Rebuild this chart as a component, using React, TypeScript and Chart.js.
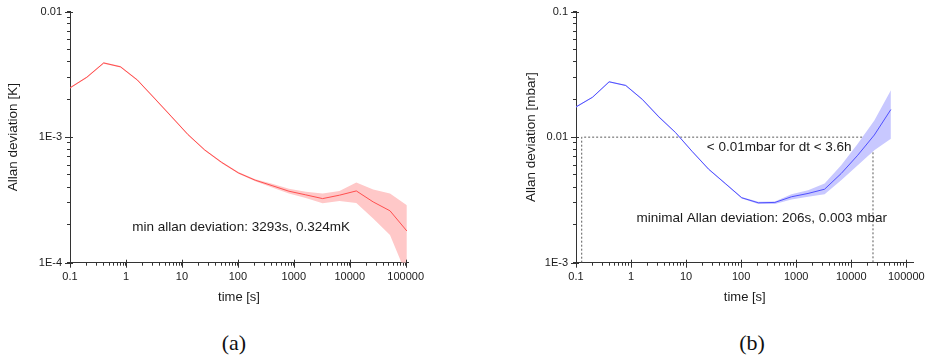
import React, { useEffect, useRef } from 'react';
import { Chart, registerables } from 'chart.js';

Chart.register(...registerables);

// ---------- data ----------
const TIMES_A = [0.1, 0.2, 0.4, 0.8, 1.6, 3.2, 6.4, 12.8, 25.6, 51.2, 102.4, 204.8, 409.6, 819.2, 1638.4, 3276.8, 6553.6, 13107.2, 26214.4, 52428.8, 104857.6];
const ALLAN_A = [2.47e-3, 3.0e-3, 3.9e-3, 3.63e-3, 2.85e-3, 2.05e-3, 1.47e-3, 1.05e-3, 7.9e-4, 6.3e-4, 5.19e-4, 4.54e-4, 4.11e-4, 3.71e-4, 3.47e-4, 3.24e-4, 3.45e-4, 3.73e-4, 3.05e-4, 2.59e-4, 1.79e-4];
const UPPER_A = [2.5e-3, 3.04e-3, 3.95e-3, 3.68e-3, 2.89e-3, 2.08e-3, 1.49e-3, 1.065e-3, 8.0e-4, 6.4e-4, 5.27e-4, 4.62e-4, 4.25e-4, 3.88e-4, 3.68e-4, 3.56e-4, 3.73e-4, 4.35e-4, 3.83e-4, 3.56e-4, 2.87e-4];
const LOWER_A = [2.44e-3, 2.96e-3, 3.85e-3, 3.58e-3, 2.81e-3, 2.02e-3, 1.45e-3, 1.035e-3, 7.8e-4, 6.2e-4, 5.11e-4, 4.46e-4, 3.98e-4, 3.56e-4, 3.28e-4, 2.97e-4, 3.1e-4, 2.99e-4, 2.25e-4, 1.66e-4, 7.9e-5];

const TIMES_B = [0.1, 0.2, 0.4, 0.8, 1.6, 3.2, 6.4, 12.8, 25.6, 51.2, 102.4, 204.8, 409.6, 819.2, 1638.4, 3276.8, 6553.6, 13107.2, 26214.4, 52428.8];
const ALLAN_B = [1.74e-2, 2.08e-2, 2.76e-2, 2.58e-2, 2.0e-2, 1.45e-2, 1.09e-2, 7.72e-3, 5.56e-3, 4.28e-3, 3.29e-3, 3.0e-3, 3.02e-3, 3.35e-3, 3.56e-3, 3.85e-3, 5.13e-3, 7.18e-3, 1.04e-2, 1.66e-2];
const UPPER_B = [1.76e-2, 2.1e-2, 2.79e-2, 2.61e-2, 2.02e-2, 1.47e-2, 1.1e-2, 7.8e-3, 5.62e-3, 4.33e-3, 3.33e-3, 3.06e-3, 3.07e-3, 3.51e-3, 3.78e-3, 4.27e-3, 5.97e-3, 8.88e-3, 1.36e-2, 2.36e-2];
const LOWER_B = [1.72e-2, 2.06e-2, 2.73e-2, 2.55e-2, 1.98e-2, 1.43e-2, 1.08e-2, 7.64e-3, 5.5e-3, 4.23e-3, 3.25e-3, 2.94e-3, 2.93e-3, 3.19e-3, 3.35e-3, 3.51e-3, 4.54e-3, 5.97e-3, 7.86e-3, 9.73e-3];

const GUIDE_T = [0.127, 0.127, 24800, 24800];
const GUIDE_V = [1e-3, 1e-2, 1e-2, 1e-3];

const X_TICK_VALUES = [0.1, 1, 10, 100, 1000, 10000, 100000];
const X_TICK_LABELS = ['0.1', '1', '10', '100', '1000', '10000', '100000'];
const Y_TICK_VALUES_A = [1e-4, 1e-3, 1e-2];
const Y_TICK_LABELS_A = ['1E-4', '1E-3', '0.01'];
const Y_TICK_VALUES_B = [1e-3, 1e-2, 1e-1];
const Y_TICK_LABELS_B = ['1E-3', '0.01', '0.1'];

// ---------- styling ----------
const FONT = '"Liberation Sans", Arial, sans-serif';
const AXIS_COLOR = '#333333';
const TEXT_COLOR = '#1a1a1a';

type Note = { text: string; t: number; v: number };

type PanelSpec = {
  left: number;
  width: number;
  height: number;
  yAxisWidth: number;
  padRight: number;
  padTop: number;
  xAxisHeight: number;
  xMax: number;
  yMin: number;
  yMax: number;
  yTickValues: number[];
  yTickLabels: string[];
  yTitle: string;
  times: number[];
  values: number[];
  upper: number[];
  lower: number[];
  lineColor: string;
  bandColor: string;
  notes: Note[];
  guide: boolean;
};

function logTicks(min: number, max: number): number[] {
  const out: number[] = [];
  const e0 = Math.floor(Math.log10(min) + 1e-9);
  const e1 = Math.ceil(Math.log10(max) + 1e-9);
  for (let e = e0; e <= e1; e++) {
    for (let m = 1; m <= 9; m++) {
      const v = Number((m * Math.pow(10, e)).toPrecision(6));
      if (v >= min * (1 - 1e-9) && v <= max * (1 + 1e-9)) out.push(v);
    }
  }
  return out;
}

function findLabel(value: number, values: number[], labels: string[]): string {
  for (let i = 0; i < values.length; i++) {
    if (Math.abs(Math.log10(value) - Math.log10(values[i])) < 1e-6) return labels[i];
  }
  return '';
}

function isMajor(value: number, values: number[]): boolean {
  return findLabel(value, values, values.map(() => 'x')) !== '';
}

const decorPlugin = {
  id: 'decor',
  afterDraw(chart: any) {
    const opts = chart.options.plugins.decor || {};
    const ctx = chart.ctx as CanvasRenderingContext2D;
    const xs = chart.scales.x;
    const ys = chart.scales.y;
    const area = chart.chartArea;
    ctx.save();
    ctx.strokeStyle = AXIS_COLOR;
    ctx.lineWidth = 1;
    // longer major ticks crossing the axis
    for (const tk of xs.ticks) {
      if (!isMajor(tk.value, X_TICK_VALUES)) continue;
      const px = Math.round(xs.getPixelForValue(tk.value)) + 0.5;
      ctx.beginPath();
      ctx.moveTo(px, area.bottom - 3);
      ctx.lineTo(px, area.bottom + 5);
      ctx.stroke();
    }
    for (const tk of ys.ticks) {
      if (!isMajor(tk.value, opts.yTickValues || [])) continue;
      const py = Math.round(ys.getPixelForValue(tk.value)) + 0.5;
      ctx.beginPath();
      ctx.moveTo(area.left - 5, py);
      ctx.lineTo(area.left + 3, py);
      ctx.stroke();
    }
    // annotations
    ctx.fillStyle = TEXT_COLOR;
    ctx.font = '13.5px ' + FONT;
    ctx.textAlign = 'left';
    ctx.textBaseline = 'middle';
    for (const n of (opts.notes || []) as Note[]) {
      ctx.fillText(n.text, xs.getPixelForValue(n.t), ys.getPixelForValue(n.v));
    }
    ctx.restore();
  },
};

function Panel({ spec }: { spec: PanelSpec }) {
  const ref = useRef<HTMLCanvasElement | null>(null);
  useEffect(() => {
    if (!ref.current) return;
    const pts = (ts: number[], vs: number[]) => ts.map((t, i) => ({ x: t, y: vs[i] }));
    const datasets: any[] = [
      {
        data: pts(spec.times, spec.values),
        borderColor: spec.lineColor,
        borderWidth: 1,
        pointRadius: 0,
        tension: 0,
        fill: false,
      },
      {
        data: pts(spec.times, spec.upper),
        borderColor: 'transparent',
        borderWidth: 0,
        pointRadius: 0,
        tension: 0,
        fill: false,
      },
      {
        data: pts(spec.times, spec.lower),
        borderColor: 'transparent',
        backgroundColor: spec.bandColor,
        borderWidth: 0,
        pointRadius: 0,
        tension: 0,
        fill: 1,
      },
    ];
    if (spec.guide) {
      datasets.push({
        data: pts(GUIDE_T, GUIDE_V),
        borderColor: '#5a5a5a',
        borderWidth: 1,
        borderDash: [2, 2],
        pointRadius: 0,
        tension: 0,
        fill: false,
      });
    }
    const chart = new Chart(ref.current, {
      type: 'line',
      data: { datasets },
      plugins: [decorPlugin],
      options: {
        responsive: false,
        animation: false,
        devicePixelRatio: 1,
        layout: { padding: { left: 0, top: spec.padTop, right: spec.padRight, bottom: 0 } },
        plugins: {
          legend: { display: false },
          tooltip: { enabled: false },
          decor: { notes: spec.notes, yTickValues: spec.yTickValues },
        } as any,
        scales: {
          x: {
            type: 'logarithmic',
            min: 0.1,
            max: spec.xMax,
            afterBuildTicks: (s: any) => {
              s.ticks = logTicks(0.1, spec.xMax).map((v) => ({ value: v }));
            },
            afterFit: (s: any) => {
              s.height = spec.xAxisHeight;
            },
            border: { display: true, color: AXIS_COLOR, width: 1 },
            grid: { drawOnChartArea: false, drawTicks: true, tickLength: 3, tickColor: AXIS_COLOR },
            ticks: {
              autoSkip: false,
              maxRotation: 0,
              minRotation: 0,
              padding: 5,
              color: TEXT_COLOR,
              font: { family: FONT, size: 11 },
              callback: (v: any) => findLabel(Number(v), X_TICK_VALUES, X_TICK_LABELS),
            },
            title: {
              display: true,
              text: 'time [s]',
              color: TEXT_COLOR,
              font: { family: FONT, size: 13 },
              padding: { top: 0, bottom: 5 },
            },
          },
          y: {
            type: 'logarithmic',
            min: spec.yMin,
            max: spec.yMax,
            afterBuildTicks: (s: any) => {
              s.ticks = logTicks(spec.yMin, spec.yMax).map((v) => ({ value: v }));
            },
            afterFit: (s: any) => {
              s.width = spec.yAxisWidth;
            },
            border: { display: true, color: AXIS_COLOR, width: 1 },
            grid: { drawOnChartArea: false, drawTicks: true, tickLength: 3, tickColor: AXIS_COLOR },
            ticks: {
              autoSkip: false,
              padding: 5,
              color: TEXT_COLOR,
              font: { family: FONT, size: 11 },
              callback: (v: any) => findLabel(Number(v), spec.yTickValues, spec.yTickLabels),
            },
            title: {
              display: true,
              text: spec.yTitle,
              color: TEXT_COLOR,
              font: { family: FONT, size: 13.5 },
              padding: { top: 5, bottom: 0 },
            },
          },
        },
      } as any,
    });
    return () => chart.destroy();
  }, [spec]);
  return (
    <canvas
      ref={ref}
      width={spec.width}
      height={spec.height}
      style={{ position: 'absolute', left: spec.left, top: 0, width: spec.width, height: spec.height, display: 'block' }}
    />
  );
}

const PANEL_A: PanelSpec = {
  left: 0,
  width: 440,
  height: 310,
  yAxisWidth: 70,
  padRight: 32,
  padTop: 11,
  xAxisHeight: 47.3,
  xMax: 1.1e5,
  yMin: 1e-4,
  yMax: 1e-2,
  yTickValues: Y_TICK_VALUES_A,
  yTickLabels: Y_TICK_LABELS_A,
  yTitle: 'Allan deviation [K]',
  times: TIMES_A,
  values: ALLAN_A,
  upper: UPPER_A,
  lower: LOWER_A,
  lineColor: '#ff4f4f',
  bandColor: '#ffc8c8',
  notes: [{ text: 'min allan deviation: 3293s, 0.324mK', t: 1.3, v: 1.93e-4 }],
  guide: false,
};

const PANEL_B: PanelSpec = {
  left: 518,
  width: 412,
  height: 310,
  yAxisWidth: 58,
  padRight: 15,
  padTop: 11,
  xAxisHeight: 47.3,
  xMax: 1.35e5,
  yMin: 1e-3,
  yMax: 1e-1,
  yTickValues: Y_TICK_VALUES_B,
  yTickLabels: Y_TICK_LABELS_B,
  yTitle: 'Allan deviation [mbar]',
  times: TIMES_B,
  values: ALLAN_B,
  upper: UPPER_B,
  lower: LOWER_B,
  lineColor: '#5050ff',
  bandColor: '#c8c8ff',
  notes: [
    { text: '< 0.01mbar for dt < 3.6h', t: 23.7, v: 8.36e-3 },
    { text: 'minimal Allan deviation: 206s, 0.003 mbar', t: 1.25, v: 2.26e-3 },
  ],
  guide: true,
};

const captionStyle = (cx: number): React.CSSProperties => ({
  position: 'absolute',
  left: cx - 50,
  top: 330,
  width: 100,
  textAlign: 'center',
  fontFamily: '"Liberation Serif", "Times New Roman", serif',
  fontSize: 22,
  lineHeight: '26px',
  color: '#111',
});

export default function App() {
  return (
    <div style={{ position: 'absolute', left: 0, top: 0, width: 930, height: 357, background: '#fff', overflow: 'hidden' }}>
      <Panel spec={PANEL_A} />
      <Panel spec={PANEL_B} />
      <div style={captionStyle(234)}>(a)</div>
      <div style={captionStyle(752)}>(b)</div>
    </div>
  );
}
